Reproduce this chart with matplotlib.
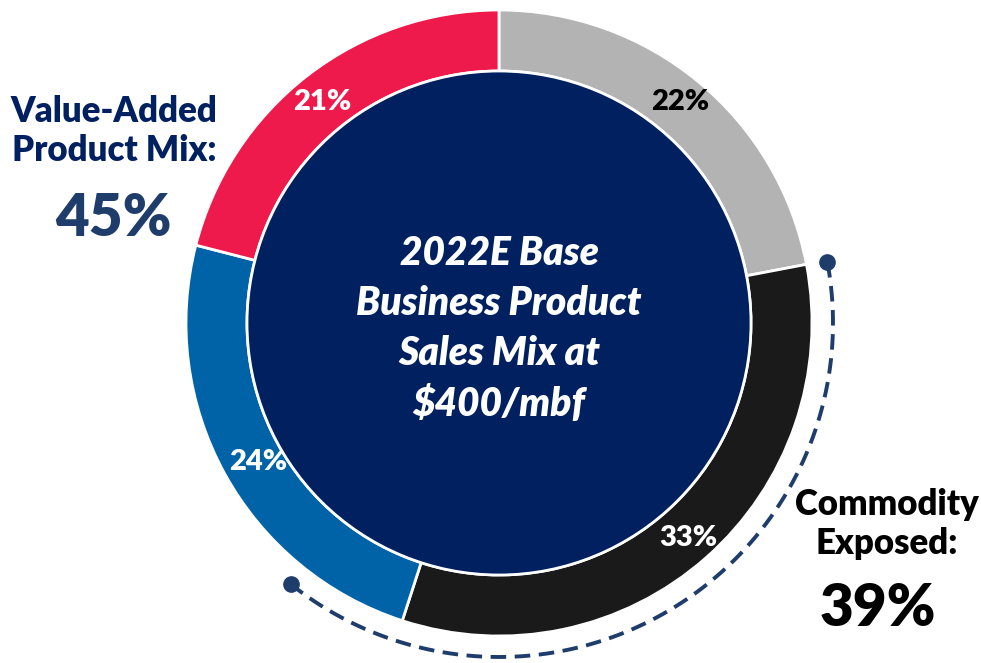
import numpy as np
import matplotlib.pyplot as plt
from matplotlib.patches import Circle

plt.rcParams["font.family"] = ["Lato", "DejaVu Sans"]

# Sales mix segments, clockwise from 12 o'clock
segments = ["Commodity A", "Commodity B", "Value-Added A", "Value-Added B"]
shares = [22, 33, 24, 21]
seg_colors = ["#b3b3b3", "#1a1a1a", "#0063a8", "#ee1a4b"]
label_colors = ["black", "white", "white", "white"]

value_added_share = 45
commodity_share = 39

W, H = 981, 663
fig = plt.figure(figsize=(W / 100, H / 100), dpi=100)
ax = fig.add_axes([0, 0, 1, 1])

cx, cy = 499, 340
r_out, r_in = 313, 252
wt = "heavy"

wedges, _ = ax.pie(
    shares,
    colors=seg_colors,
    startangle=90,
    counterclock=False,
    radius=r_out,
    center=(cx, cy),
    frame=True,
    wedgeprops=dict(width=r_out - r_in, edgecolor="white", linewidth=2),
)

# percent labels inside the ring
label_pos = [(680, 561), (688, 125), (258, 201), (322, 561)]
for (x, y), s, c in zip(label_pos, shares, label_colors):
    ax.text(x, y, f"{s}%", ha="center", va="center", fontsize=21,
            fontweight=wt, color=c)

# navy centre disc
ax.add_patch(Circle((cx, cy), r_in, facecolor="#002060", edgecolor="white",
                    linewidth=2, zorder=3))
ax.text(cx, cy - 6, "2022E Base\nBusiness Product\nSales Mix at\n$400/mbf",
        ha="center", va="center", fontsize=28, fontweight=wt,
        fontstyle="italic", color="white", linespacing=1.42, zorder=4)

# dashed bracket around the commodity-exposed part
r_arc = 334
theta = np.radians(np.linspace(10.5, -128.5, 200))
ax.plot(cx + r_arc * np.cos(theta), cy + r_arc * np.sin(theta),
        color="#1f3d6b", lw=2.8, ls=(0, (4, 2.2)))
ax.plot([cx + r_arc * np.cos(theta[0]), cx + r_arc * np.cos(theta[-1])],
        [cy + r_arc * np.sin(theta[0]), cy + r_arc * np.sin(theta[-1])],
        "o", color="#1f3d6b", markersize=11, ls="none")

# side callouts
ax.text(114, 532, "Value-Added\nProduct Mix:", ha="center", va="center",
        fontsize=25, fontweight=wt, color="#002060", linespacing=1.2)
ax.text(113, 444, f"{value_added_share}%", ha="center", va="center",
        fontsize=42, fontweight=wt, color="#1f3d6b")
ax.text(887, 139, "Commodity\nExposed:", ha="center", va="center",
        fontsize=25, fontweight=wt, color="black", linespacing=1.2)
ax.text(878, 54, f"{commodity_share}%", ha="center", va="center",
        fontsize=42, fontweight=wt, color="black")

ax.set_xlim(0, W)
ax.set_ylim(0, H)
ax.set_aspect("equal")
ax.axis("off")

fig.savefig("out.png", dpi=100, facecolor="white")
